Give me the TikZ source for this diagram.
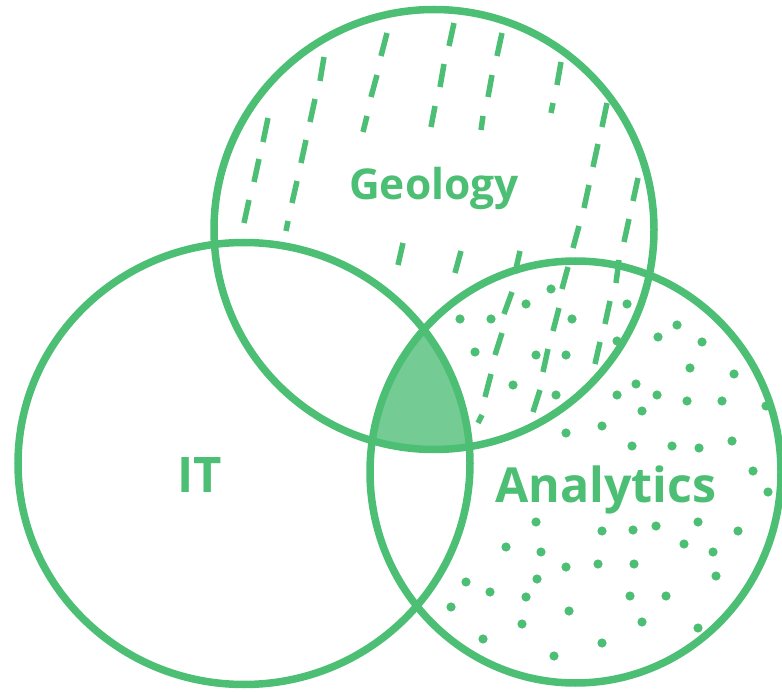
\documentclass[tikz,border=0pt]{standalone}
\usepackage{fontspec}
\setmainfont{Open Sans}
\definecolor{vgreen}{RGB}{76,191,116}
\definecolor{vfill}{RGB}{116,204,148}
\begin{document}
\begin{tikzpicture}[x=1pt,y=-1pt,
  ringline/.style={draw=vgreen,line width=7.5pt},
  dashbar/.style={draw=vgreen,line width=5.5pt},
  dotmark/.style={fill=vgreen},
  setname/.style={text=vgreen,font=\bfseries\fontsize{#1}{#1}\selectfont,anchor=base,inner sep=0pt}]
\useasboundingbox (0,0) rectangle (782,692);
\clip (0,0) rectangle (782,692);
\coordinate (geo) at (434,229.5);
\coordinate (it) at (244,463.5);
\coordinate (ana) at (575.5,472);
% triple intersection
\begin{scope}
  \clip (geo) circle[radius=220pt];
  \clip (it) ellipse[x radius=226pt, y radius=221pt];
  \fill[vfill] (ana) ellipse[x radius=205.5pt, y radius=211pt];
\end{scope}
% dashes (Geology)
\foreach \xa/\ya/\xb/\yb in {
  454/23/449/46, 444/64/440/87, 435/106/431/127,
  502/33/497/56, 492/75/488/97, 483/116/481/130,
  387/33/381/56, 377/75/371/97, 367/116/363/132,
  324/57/320/81, 315/99/310/122, 306/140/301/163, 297/181/292/203, 288/221/286/231,
  268/118/263/142, 259/159/254/182, 249/200/244/223,
  561/62/557/85, 553/103/551/113,
  607/103/602/127, 598/144/593/167, 589/185/584/208, 579/226/573/248, 568/267/562/289,
  559/308/553/331, 548/349/543/372, 540/390/533/412,
  638/178/633/201, 629/219/624/242, 619/260/616/283, 610/301/605/324, 600/342/595/364,
  403/243/398/265, 461/251/455/273,
  520/251/515/273, 512/292/504/314, 502/333/495/355, 491/374/485/397, 482/415/478/423}
  \draw[dashbar] (\xa,\ya) -- (\xb,\yb);
% dots (Analytics)
\foreach \px/\py in {
  551/289, 526/304, 627/304, 460/319, 491/319, 572/319, 677/325, 658/337, 617/341, 702/342,
  475/352, 536/355, 566/355, 690/368, 734/374, 513/385, 636/384, 617/395, 657/395, 556/395,
  687/401, 722/401, 766/406, 642/411, 602/426, 566/433, 632/446, 672/446, 699/448, 732/441,
  753/471, 768/492, 536/522, 602/531, 633/530, 656/526, 698/522, 738/531, 506/547, 541/552,
  684/544, 713/552, 566/567, 598/564, 634/564, 716/576, 537/579, 466/582, 490/592, 526/597,
  630/596, 666/596, 451/607, 569/611, 522/624, 642/622, 698/628, 483/639, 602/643, 554/656}
  \fill[dotmark] (\px,\py) circle[radius=4.6pt];
% circles
\draw[ringline] (geo) circle[radius=220pt];
\draw[ringline] (it) ellipse[x radius=226pt, y radius=221pt];
\draw[ringline] (ana) ellipse[x radius=205.5pt, y radius=211pt];
% labels
\node[setname=42.5] (geolabel) at (434,200) {Geology};
\node[setname=49] (itlabel) at (200,493) {IT};
\node[setname=48.3] (analabel) at (606,502) {Analytics};
\end{tikzpicture}
\end{document}
